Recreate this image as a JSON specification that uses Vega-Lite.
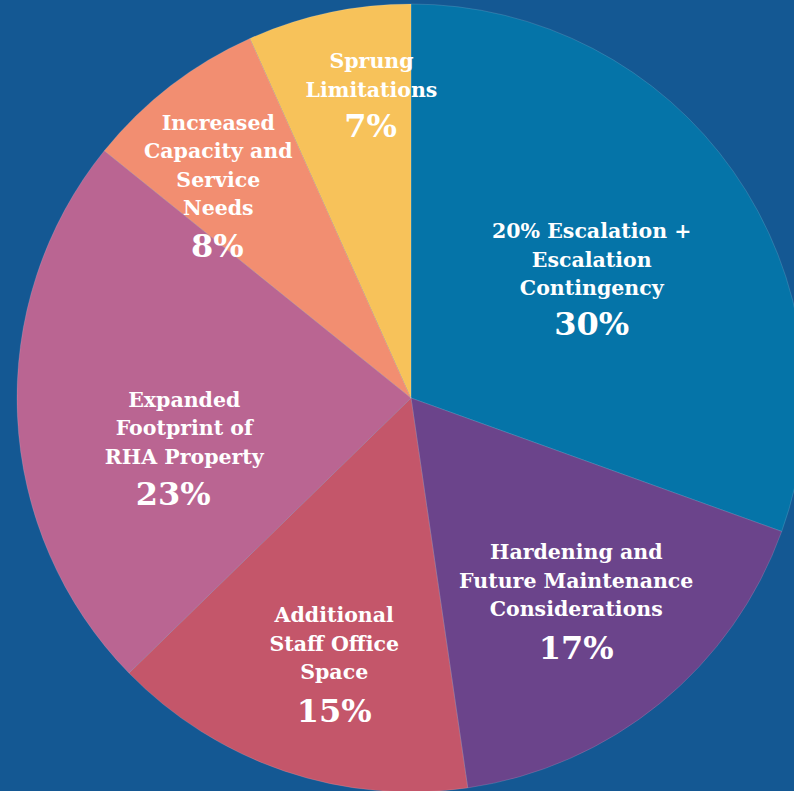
{
  "$schema": "https://vega.github.io/schema/vega-lite/v6.json",
  "width": 766,
  "height": 786,
  "autosize": {"type": "none"},
  "padding": {"left": 28, "top": 5, "right": 0, "bottom": 0},
  "background": "#145893",
  "config": {"view": {"stroke": null}},
  "data": {
    "values": [
      {"order": 1, "name": "20% Escalation + Escalation Contingency", "label": "20% Escalation +\nEscalation\nContingency", "pct": "30%", "value": 30.5},
      {"order": 2, "name": "Hardening and Future Maintenance Considerations", "label": "Hardening and\nFuture Maintenance\nConsiderations", "pct": "17%", "value": 17.2},
      {"order": 3, "name": "Additional Staff Office Space", "label": "Additional\nStaff Office\nSpace", "pct": "15%", "value": 15.0},
      {"order": 4, "name": "Expanded Footprint of RHA Property", "label": "Expanded\nFootprint of\nRHA Property", "pct": "23%", "value": 23.1},
      {"order": 5, "name": "Increased Capacity and Service Needs", "label": "Increased\nCapacity and\nService\nNeeds", "pct": "8%", "value": 7.5},
      {"order": 6, "name": "Sprung Limitations", "label": "Sprung\nLimitations", "pct": "7%", "value": 6.7}
    ]
  },
  "encoding": {
    "theta": {"field": "value", "type": "quantitative", "stack": true},
    "order": {"field": "order", "type": "quantitative"}
  },
  "layer": [
    {
      "mark": {"type": "arc", "radius": 394, "stroke": "#ffffff", "strokeWidth": 0.4, "strokeOpacity": 0.35},
      "encoding": {
        "color": {
          "field": "name", "type": "nominal", "legend": null,
          "scale": {
            "domain": ["20% Escalation + Escalation Contingency", "Hardening and Future Maintenance Considerations", "Additional Staff Office Space", "Expanded Footprint of RHA Property", "Increased Capacity and Service Needs", "Sprung Limitations"],
            "range": ["#0574a8", "#6b448b", "#c4566a", "#ba6592", "#f28e71", "#f7c25a"]
          }
        }
      }
    },
    {"mark": {"type": "text", "radius": 227, "dx": -5, "dy": -35, "font": "DejaVu Serif", "fontWeight": "bold", "fontSize": 20.5, "lineHeight": 28.5, "lineBreak": "\n", "color": "white", "align": "center", "baseline": "middle"},
     "encoding": {"text": {"condition": {"test": "datum.order === 1", "field": "label"}, "value": ""}}},
    {"mark": {"type": "text", "radius": 227, "dx": -5, "dy": 58, "font": "DejaVu Serif", "fontWeight": "bold", "fontSize": 32, "color": "white", "align": "center", "baseline": "middle"},
     "encoding": {"text": {"condition": {"test": "datum.order === 1", "field": "pct"}, "value": ""}}},
    {"mark": {"type": "text", "radius": 247, "dx": 9, "dy": -36, "font": "DejaVu Serif", "fontWeight": "bold", "fontSize": 20.5, "lineHeight": 28.5, "lineBreak": "\n", "color": "white", "align": "center", "baseline": "middle"},
     "encoding": {"text": {"condition": {"test": "datum.order === 2", "field": "label"}, "value": ""}}},
    {"mark": {"type": "text", "radius": 247, "dx": 9, "dy": 60, "font": "DejaVu Serif", "fontWeight": "bold", "fontSize": 32, "color": "white", "align": "center", "baseline": "middle"},
     "encoding": {"text": {"condition": {"test": "datum.order === 2", "field": "pct"}, "value": ""}}},
    {"mark": {"type": "text", "radius": 258, "dx": 6, "dy": -26, "font": "DejaVu Serif", "fontWeight": "bold", "fontSize": 20.5, "lineHeight": 28.5, "lineBreak": "\n", "color": "white", "align": "center", "baseline": "middle"},
     "encoding": {"text": {"condition": {"test": "datum.order === 3", "field": "label"}, "value": ""}}},
    {"mark": {"type": "text", "radius": 258, "dx": 6, "dy": 70, "font": "DejaVu Serif", "fontWeight": "bold", "fontSize": 32, "color": "white", "align": "center", "baseline": "middle"},
     "encoding": {"text": {"condition": {"test": "datum.order === 3", "field": "pct"}, "value": ""}}},
    {"mark": {"type": "text", "radius": 229, "dx": 2, "dy": -8, "font": "DejaVu Serif", "fontWeight": "bold", "fontSize": 20.5, "lineHeight": 28.5, "lineBreak": "\n", "color": "white", "align": "center", "baseline": "middle"},
     "encoding": {"text": {"condition": {"test": "datum.order === 4", "field": "label"}, "value": ""}}},
    {"mark": {"type": "text", "radius": 229, "dx": -9, "dy": 86, "font": "DejaVu Serif", "fontWeight": "bold", "fontSize": 32, "color": "white", "align": "center", "baseline": "middle"},
     "encoding": {"text": {"condition": {"test": "datum.order === 4", "field": "pct"}, "value": ""}}},
    {"mark": {"type": "text", "radius": 301, "dx": -9, "dy": -36, "font": "DejaVu Serif", "fontWeight": "bold", "fontSize": 20.5, "lineHeight": 28.5, "lineBreak": "\n", "color": "white", "align": "center", "baseline": "middle"},
     "encoding": {"text": {"condition": {"test": "datum.order === 5", "field": "label"}, "value": ""}}},
    {"mark": {"type": "text", "radius": 301, "dx": -10, "dy": 87, "font": "DejaVu Serif", "fontWeight": "bold", "fontSize": 32, "color": "white", "align": "center", "baseline": "middle"},
     "encoding": {"text": {"condition": {"test": "datum.order === 5", "field": "pct"}, "value": ""}}},
    {"mark": {"type": "text", "radius": 323, "dx": 28, "dy": -20, "font": "DejaVu Serif", "fontWeight": "bold", "fontSize": 20.5, "lineHeight": 28.5, "lineBreak": "\n", "color": "white", "align": "center", "baseline": "middle"},
     "encoding": {"text": {"condition": {"test": "datum.order === 6", "field": "label"}, "value": ""}}},
    {"mark": {"type": "text", "radius": 323, "dx": 27, "dy": 45, "font": "DejaVu Serif", "fontWeight": "bold", "fontSize": 32, "color": "white", "align": "center", "baseline": "middle"},
     "encoding": {"text": {"condition": {"test": "datum.order === 6", "field": "pct"}, "value": ""}}}
  ]
}
